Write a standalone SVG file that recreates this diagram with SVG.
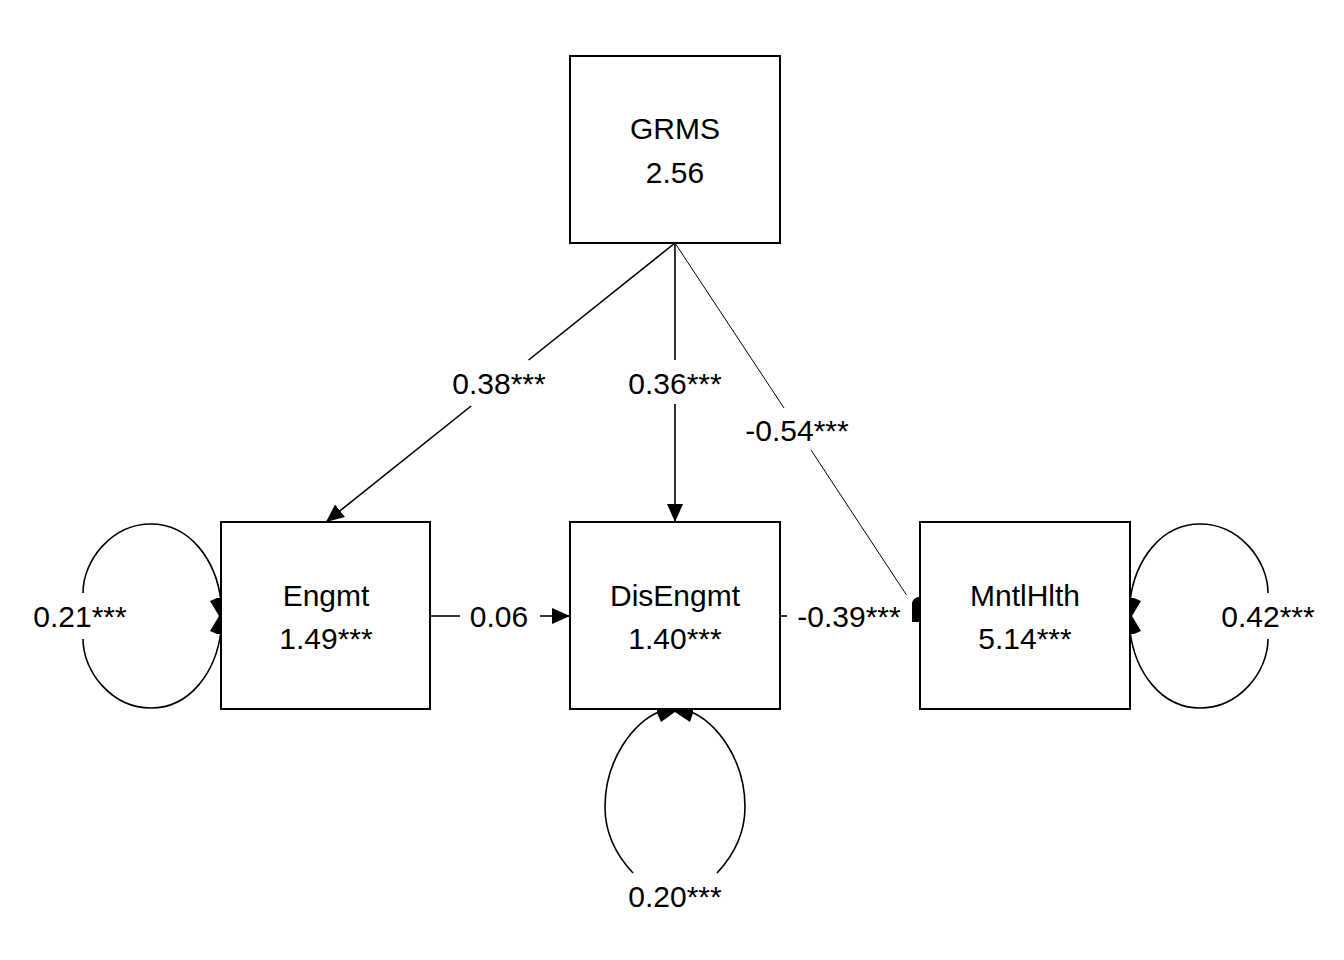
<svg xmlns="http://www.w3.org/2000/svg" width="1344" height="960" viewBox="0 0 1344 960">
<style>
.box{fill:#fff;stroke:#000;stroke-width:2}
.t{font-family:"Liberation Sans",Arial,sans-serif;font-size:30px;fill:#000;text-anchor:middle}
.e{fill:none;stroke:#000;stroke-width:1.6}
.thin{fill:none;stroke:#000;stroke-width:1}
.ah{fill:#000;stroke:none}
</style>
<defs>
<marker id="arr" markerUnits="userSpaceOnUse" markerWidth="18" markerHeight="16" refX="18" refY="8" orient="auto" viewBox="0 0 18 16">
<path d="M0,0 L18,8 L0,16 Z" fill="#000"/>
</marker>
</defs>
<rect width="1344" height="960" fill="#fff"/>
<g id="connectors">
<line class="e" x1="675" y1="243" x2="528.6" y2="360"/>
<line class="e" x1="471.1" y1="406" x2="326" y2="522" marker-end="url(#arr)"/>
<text class="t" x="499" y="394">0.38***</text>
<line class="e" x1="675" y1="243" x2="675" y2="360"/>
<line class="e" x1="675" y1="404" x2="675" y2="522" marker-end="url(#arr)"/>
<text class="t" x="675" y="394">0.36***</text>
<line class="thin" x1="675" y1="243" x2="784" y2="408"/>
<line class="thin" x1="811" y1="450" x2="906.5" y2="595"/>
<text class="t" x="797" y="441">-0.54***</text>
<line class="e" x1="430" y1="616" x2="460" y2="616"/>
<line class="e" x1="540" y1="616" x2="570" y2="616" marker-end="url(#arr)"/>
<text class="t" x="499" y="627">0.06</text>
<line class="e" x1="780" y1="616" x2="787" y2="616"/>
<text class="t" x="849" y="627">-0.39***</text>
<path class="ah" d="M912,622 L912,603 Q913,598 918,597 L920,597 L920,622 Z"/>
<path class="e" d="M221,601 C216,560 190,524 151,524 C112,524 83,560 83,593"/>
<path class="e" d="M83,639 C83,672 112,708 151,708 C190,708 216,672 221,631"/>
<polygon class="ah" points="221,598 221,634 217,634 210,631 219,616 210,601 217,598"/>
<text class="t" x="80" y="627">0.21***</text>
<path class="e" d="M661,711 C633,722 605,760 605,807 C605,835 617,856 633,873"/>
<path class="e" d="M689,711 C717,722 745,760 745,807 C745,835 733,856 717,873"/>
<polygon class="ah" points="657,709 693,709 693,713 690,722 675,712 661,722 657,713"/>
<text class="t" x="675" y="907">0.20***</text>
<path class="e" d="M1130,601 C1135,560 1161,524 1200,524 C1239,524 1268,560 1268,593"/>
<path class="e" d="M1268,639 C1268,672 1239,708 1200,708 C1161,708 1135,672 1130,631"/>
<polygon class="ah" points="1130,598 1130,634 1134,634 1141,631 1132,616 1141,601 1134,598"/>
<text class="t" x="1268" y="627">0.42***</text>
</g>
<g id="GRMS">
<rect class="box" x="570" y="56" width="210" height="187"/>
<text class="t" x="675" y="139">GRMS</text>
<text class="t" x="675" y="183">2.56</text>
</g>
<g id="Engmt">
<rect class="box" x="221" y="522" width="209" height="187"/>
<text class="t" x="326" y="606">Engmt</text>
<text class="t" x="326" y="649">1.49***</text>
</g>
<g id="DisEngmt">
<rect class="box" x="570" y="522" width="210" height="187"/>
<text class="t" x="675" y="606">DisEngmt</text>
<text class="t" x="675" y="649">1.40***</text>
</g>
<g id="MntlHlth">
<rect class="box" x="920" y="522" width="210" height="187"/>
<text class="t" x="1025" y="606">MntlHlth</text>
<text class="t" x="1025" y="649">5.14***</text>
</g>
</svg>
